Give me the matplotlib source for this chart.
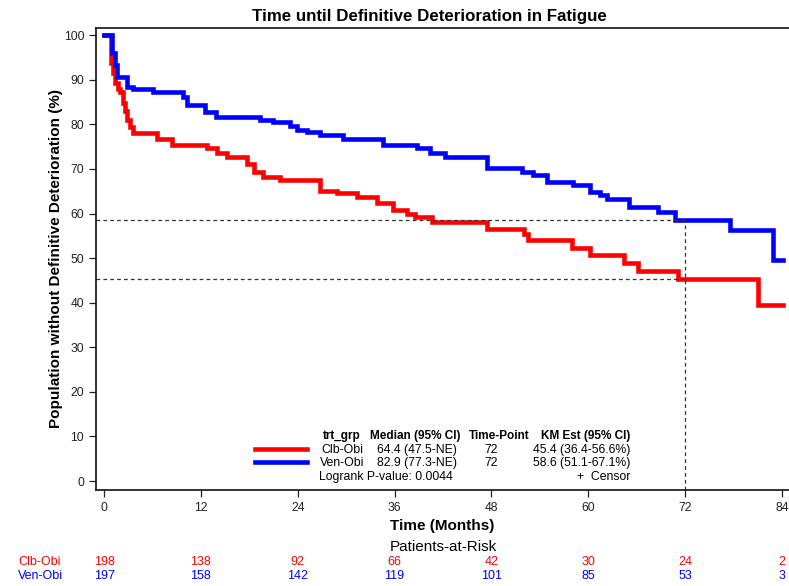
import numpy as np
import matplotlib.pyplot as plt
from matplotlib import transforms

plt.rcParams['font.family'] = ['Liberation Sans', 'DejaVu Sans']

# Kaplan-Meier step data (months, % without deterioration)
clb_t = [0, 0.8, 0.9, 1.1, 1.4, 1.7, 2.0, 2.3, 2.6, 2.8, 3.2, 3.6, 6.6, 8.4, 12.8,
         14.0, 15.2, 17.7, 18.6, 19.7, 21.8, 26.8, 28.9, 31.3, 33.8, 35.8, 37.5,
         38.5, 40.6, 47.5, 52.0, 52.5, 58.0, 60.2, 64.4, 66.2, 71.1, 81.0]
clb_s = [100, 96.0, 93.7, 91.5, 89.2, 88.0, 87.2, 84.7, 83.0, 80.9, 79.5, 78.0,
         76.8, 75.3, 74.6, 73.5, 72.6, 71.0, 69.3, 68.2, 67.5, 65.1, 64.5, 63.7,
         62.3, 60.9, 60.0, 59.3, 58.1, 56.6, 55.3, 54.0, 52.2, 50.7, 48.8, 47.2,
         45.4, 39.5]
ven_t = [0, 1.0, 1.3, 1.6, 2.8, 3.6, 6.1, 9.8, 10.3, 12.5, 13.9, 19.3, 20.9,
         23.0, 23.9, 25.2, 26.8, 29.6, 34.6, 38.8, 40.4, 42.3, 47.4, 51.8, 53.2,
         54.9, 58.1, 60.2, 61.5, 62.3, 65.0, 68.6, 70.7, 77.6, 82.9]
ven_s = [100, 96.0, 93.3, 90.7, 88.4, 88.0, 87.3, 86.2, 84.3, 82.8, 81.7, 80.9,
         80.6, 79.6, 78.8, 78.3, 77.7, 76.8, 75.3, 74.6, 73.5, 72.7, 70.1, 69.4,
         68.6, 67.1, 66.4, 64.9, 64.1, 63.2, 61.5, 60.4, 58.6, 56.4, 49.6]
t_end = 84.1

groups = ['Clb-Obi', 'Ven-Obi']
medians = ['64.4 (47.5-NE)', '82.9 (77.3-NE)']
timepoint = 72
km_est = [45.4, 58.6]
km_ci = ['45.4 (36.4-56.6%)', '58.6 (51.1-67.1%)']
pvalue = '0.0044'

risk_times = [0, 12, 24, 36, 48, 60, 72, 84]
risk_clb = [198, 138, 92, 66, 42, 30, 24, 2]
risk_ven = [197, 158, 142, 119, 101, 85, 53, 3]

RED = '#ff0000'
BLUE = '#0000ff'
W, H = 789, 586


def fx(x):
    return x / W


def fy(y):
    return 1 - y / H


fig = plt.figure(figsize=(W / 100, H / 100), dpi=100)
ax = fig.add_axes([fx(96), fy(490), 1 - fx(96), fy(28) - fy(490)])

for t, s, c in [(clb_t, clb_s, RED), (ven_t, ven_s, BLUE)]:
    ax.step(t + [t_end], s + [s[-1]], where='post', color=c, lw=3.3,
            solid_joinstyle='miter')

# reference lines at the 72-month KM estimates
for est in km_est:
    ax.plot([-1, timepoint], [est, est], ls=(0, (3, 2.5)), color='#333333', lw=0.9)
ax.plot([timepoint, timepoint], [-2, max(km_est)], ls=(0, (3, 2.5)),
        color='#333333', lw=0.9)

ax.set_xlim(-1, 84.87)
ax.set_ylim(-2, 101.6)
ax.set_xticks(risk_times)
ax.set_yticks(np.arange(0, 101, 10))
ax.tick_params(labelsize=8.7, length=5, width=0.9, colors='#222222')
ax.spines['right'].set_visible(False)
for sp in ['left', 'bottom', 'top']:
    ax.spines[sp].set_linewidth(1.2)
    ax.spines[sp].set_color('#111111')

ax.set_ylabel('Population without Definitive Deterioration (%)', fontsize=11,
              fontweight='bold')
ax.yaxis.set_label_coords(fx(63 - 96) / (1 - fx(96)), 0.5)
fig.text(fx(429), fy(17), 'Time until Definitive Deterioration in Fatigue',
         ha='center', va='center', fontsize=12.2, fontweight='bold')
fig.text(fx(442), fy(526), 'Time (Months)', ha='center', va='center',
         fontsize=11, fontweight='bold')
fig.text(fx(443), fy(547), 'Patients-at-Risk', ha='center', va='center',
         fontsize=11)

# summary table inside the plot area
fs = 8.8
hdr_y, row_y = 436, [450, 463]
for left, head in [(323, 'trt_grp'), (370, 'Median (95% CI)'),
                   (469, 'Time-Point')]:
    fig.text(fx(left), fy(hdr_y), head, ha='left', va='center', fontsize=8.5,
             fontweight='bold')
fig.text(fx(630), fy(hdr_y), 'KM Est (95% CI)', ha='right', va='center',
         fontsize=8.5, fontweight='bold')
for i, (g, c) in enumerate(zip(groups, [RED, BLUE])):
    y = row_y[i]
    fig.add_artist(plt.Line2D([fx(255), fx(307)], [fy(y - 1), fy(y - 1)],
                              color=c, lw=3.3))
    fig.text(fx(342), fy(y), g, ha='center', va='center', fontsize=fs)
    fig.text(fx(377), fy(y), medians[i], ha='left', va='center', fontsize=fs)
    fig.text(fx(491), fy(y), str(timepoint), ha='center', va='center', fontsize=fs)
    fig.text(fx(630), fy(y), km_ci[i], ha='right', va='center', fontsize=fs)
fig.text(fx(319), fy(477), 'Logrank P-value: ' + pvalue, ha='left', va='center',
         fontsize=fs)
fig.text(fx(630), fy(477), '+  Censor', ha='right', va='center', fontsize=fs)

# numbers at risk below the x-axis
trans = transforms.blended_transform_factory(ax.transData, fig.transFigure)
for name, counts, c, y in [('Clb-Obi', risk_clb, RED, 562),
                           ('Ven-Obi', risk_ven, BLUE, 576)]:
    fig.text(fx(40), fy(y), name, ha='center', va='center', fontsize=9, color=c)
    for t, n in zip(risk_times, counts):
        ax.text(t, fy(y), str(n), transform=trans, ha='center', va='center',
                fontsize=9, color=c, clip_on=False)

fig.savefig('out.png', dpi=100)
